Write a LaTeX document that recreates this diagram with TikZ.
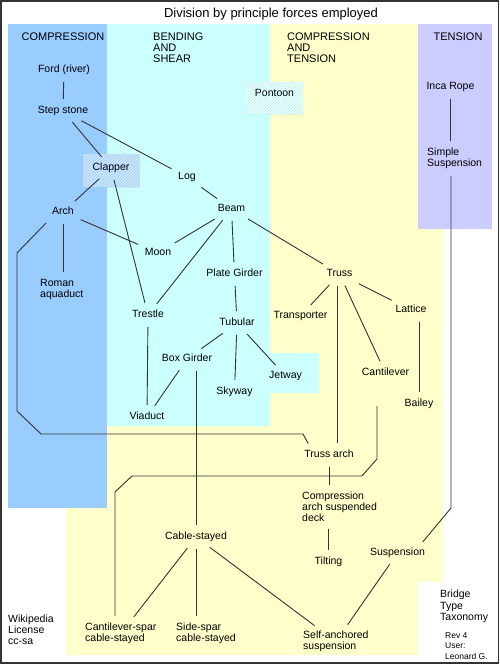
\documentclass[tikz,border=0pt]{standalone}
\usepackage{fontspec}
\setmainfont{Liberation Sans}
\usepackage{xcolor}
\usepackage{tikz}
\usetikzlibrary{patterns}
\definecolor{compblue}{HTML}{99CCFF}
\definecolor{bendcyan}{HTML}{CCFFFF}
\definecolor{ctyellow}{HTML}{FFFFCC}
\definecolor{tenpurple}{HTML}{CCCCFF}

\begin{document}
\begin{tikzpicture}[x=1pt, y=-1pt, font=\fontsize{10.5}{11}\selectfont, lbl/.style={inner sep=3pt, text height=7.5pt, text depth=2pt}, blk/.style={align=left, inner sep=3pt, anchor=north west}, head/.style={font=\fontsize{11}{11}\selectfont}, link/.style={draw=black!80, line width=0.9pt, shorten <=4pt, shorten >=4pt}]
\useasboundingbox (0,0) rectangle (500,664);
\fill[ctyellow] (66,24) -- (443,24) -- (443,582) -- (418,582) -- (418,655) -- (66,655) -- cycle;
\fill[compblue] (8,24) rectangle (107,508);
\fill[bendcyan] (107,24) -- (270,24) -- (270,353) -- (319,353) -- (319,393) -- (270,393) -- (270,426) -- (107,426) -- cycle;
\fill[tenpurple] (418,24) rectangle (492,229);
\fill[compblue!45, postaction={pattern=north east lines, pattern color=compblue}] (83,154) rectangle (140,187);
\fill[white, postaction={pattern=north east lines, pattern color=cyan!40}] (246,82) rectangle (303,114);
\draw[black!80, line width=1.5pt] (0.75,0.75) rectangle (498.25,662.75);

\node[font=\fontsize{13}{13}\selectfont] (title) at (271,14) {Division by principle forces employed};
\node[head] (hcomp) at (63,37) {COMPRESSION};
\node[head, blk] (hbend) at (150,30) {BENDING\\AND\\SHEAR};
\node[head, blk] (hcten) at (284,30) {COMPRESSION\\AND\\TENSION};
\node[head] (hten) at (458,37) {TENSION};

\node[lbl] (ford) at (64,70) {Ford (river)};
\node[lbl] (step) at (63,111) {Step stone};
\node[lbl] (clap) at (111,168) {Clapper};
\node[lbl] (log) at (187,177) {Log};
\node[lbl] (beam) at (231.5,209) {Beam};
\node[lbl] (arch) at (63,212) {Arch};
\node[blk] (roman) at (37,276) {Roman\\aquaduct};
\node[lbl] (moon) at (158,253) {Moon};
\node[lbl] (plate) at (234.5,274) {Plate Girder};
\node[lbl] (tub) at (237,323) {Tubular};
\node[lbl] (trestle) at (148,315) {Trestle};
\node[lbl] (viaduct) at (147,417) {Viaduct};
\node[lbl] (box) at (187,359) {Box Girder};
\node[lbl] (sky) at (234.5,392) {Skyway};
\node[lbl] (jet) at (285.5,376) {Jetway};
\node[lbl] (pont) at (274.5,94) {Pontoon};
\node[lbl] (truss) at (339.5,274) {Truss};
\node[lbl] (trans) at (300.5,316) {Transporter};
\node[lbl] (lattice) at (411,310) {Lattice};
\node[lbl] (bailey) at (419,404) {Bailey};
\node[lbl] (cant) at (385.5,373) {Cantilever};
\node[lbl] (tarch) at (329,455) {Truss arch};
\node[blk] (comp) at (299,489) {Compression\\arch suspended\\deck};
\node[lbl] (tilt) at (328.5,562) {Tilting};
\node[lbl] (inca) at (450.5,87) {Inca Rope};
\node[blk] (simple) at (424,145) {Simple\\Suspension};
\node[lbl] (susp) at (397.5,553) {Suspension};
\node[lbl] (cable) at (196,537) {Cable-stayed};
\node[blk] (cspar) at (82,620) {Cantilever-spar\\cable-stayed};
\node[blk] (sspar) at (173,620) {Side-spar\\cable-stayed};
\node[blk] (self) at (300,628) {Self-anchored\\suspension};
\node[blk] (wiki) at (5,612) {Wikipedia\\License\\cc-sa};
\node[blk, font=\fontsize{10.5}{11.5}\selectfont] (taxo) at (437,587) {Bridge\\Type\\Taxonomy};
\node[blk, font=\fontsize{8.5}{10.5}\selectfont] (rev) at (442,629) {Rev 4\\User:\\Leonard G.};

\draw[link] (ford) -- (step);
\draw[link] (step) -- (clap);
\draw[link] (step) -- (log);
\draw[link] (log) -- (beam);
\draw[link] (clap) -- (arch);
\draw[link] (clap) -- (trestle);
\draw[link] (arch) -- (arch |- roman.north);
\draw[link] (arch) -- (moon);
\draw[link] (beam) -- (moon);
\draw[link] (beam) -- (trestle);
\draw[link] (beam) -- (plate);
\draw[link] (beam) -- (truss);
\draw[link] (plate) -- (tub);
\draw[link] (tub) -- (box);
\draw[link] (tub) -- (sky);
\draw[link] (tub) -- (jet);
\draw[link] (trestle) -- (viaduct);
\draw[link] (box) -- (viaduct);
\draw[link] (cable) -- (cable |- box.south);
\draw[link] (truss) -- (trans);
\draw[link] (truss) -- (cant);
\draw[link] (truss) -- (lattice);
\draw[link] (bailey) -- (bailey |- lattice.south);
\draw[link] ([xshift=-2.5pt]truss.south) -- ([xshift=-2.5pt]truss.south |- tarch.north);
\draw[link] (tarch) -- (tarch |- comp.north);
\draw[link] (tilt) -- (tilt |- comp.south);
\draw[link] (inca) -- (inca |- simple.north);
\draw[link] (cable) -- (cable |- sspar.north);
\draw[link] (cable) -- (cspar);
\draw[link] (cable) -- (self);
\draw[link] (susp) -- (self);
\draw[link] (arch.south west) -- (17,253) -- (17,411) -- (41,434) -- (303,434) -- ([xshift=9pt]tarch.north west);
\draw[link] ([xshift=-8.5pt]cant.south) ++(0,21) -- ++(0,57) -- ++(-15,17) -- (132,476) -- (115,492) -- ([xshift=33pt]cspar.north west);
\draw[link] ([xshift=27pt]simple.south west) -- (451,508) -- ([xshift=-8pt]susp.north east);
\end{tikzpicture}
\end{document}
